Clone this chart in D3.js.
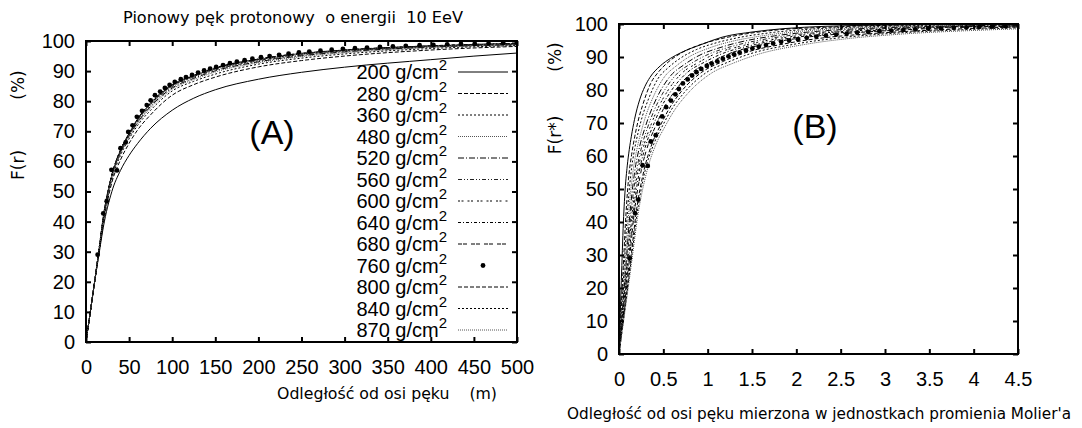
<!DOCTYPE html>
<html>
<head>
<meta charset="utf-8">
<script src="https://cdn.jsdelivr.net/npm/d3@7"></script>
<style>
body { margin: 0; background: #fff; }
</style>
</head>
<body>
<svg id="chart" width="1082" height="428"></svg>
<script>
// depth labels (g/cm2), in legend order
var depths = ['200', '280', '360', '480', '520', '560', '600', '640', '680', '760', '800', '840', '870']

// distance from shower axis (m) where the line curves were read
var radii = [0, 5, 10, 15, 20, 30, 40, 50, 60, 75, 100, 125, 150, 200, 250, 300, 400, 500, 650, 800, 1000, 1300, 1800, 2100]

// F(r) in % for each depth
var f200 = [0, 10, 20, 29, 38, 50, 57, 62, 66, 71, 77, 81, 83.8, 87.3, 89.6, 91.3, 93.8, 96, 97.6, 98.6, 99.3, 99.7, 100, 100]
var f280 = [0, 10, 20, 29.5, 39, 53, 60.5, 66, 70.5, 75.5, 82, 85.5, 88, 91.4, 93.5, 95, 97, 98.2, 99, 99.5, 99.8, 100, 100, 100]
var f360 = [0, 10, 20, 30, 40, 54, 62, 67.5, 72, 77, 83.4, 86.6, 89, 92.3, 94.3, 95.7, 97.5, 98.5, 99.2, 99.6, 99.9, 100, 100, 100]
var f480 = [0, 10, 20, 30, 40.5, 54.5, 62.5, 68, 72.6, 77.8, 84, 87.2, 89.7, 92.8, 94.8, 96.1, 97.8, 98.7, 99.3, 99.7, 99.9, 100, 100, 100]
var f520 = [0, 10, 20, 30, 40.5, 55, 63, 68.5, 73, 78.3, 84.4, 87.6, 90.1, 93.1, 95.1, 96.4, 98, 98.8, 99.4, 99.7, 99.9, 100, 100, 100]
var f560 = [0, 10, 20, 30.5, 41, 55, 63.2, 68.8, 73.4, 78.7, 84.8, 88, 90.4, 93.4, 95.3, 96.6, 98.1, 98.9, 99.4, 99.7, 99.9, 100, 100, 100]
var f600 = [0, 10, 20, 30.5, 41, 55.5, 63.5, 69, 73.7, 79, 85.1, 88.2, 90.7, 93.6, 95.5, 96.8, 98.2, 99, 99.5, 99.8, 100, 100, 100, 100]
var f640 = [0, 10, 20, 30.5, 41, 55.5, 63.7, 69.2, 74, 79.3, 85.3, 88.4, 90.9, 93.8, 95.7, 96.9, 98.3, 99.1, 99.5, 99.8, 100, 100, 100, 100]
var f680 = [0, 10, 20, 30.5, 41.5, 55.5, 63.8, 69.3, 74.2, 79.5, 85.5, 88.6, 91.1, 94, 95.9, 97, 98.4, 99.2, 99.6, 99.8, 100, 100, 100, 100]
var f800 = [0, 10, 20, 30.5, 41.5, 55.5, 63.8, 69.3, 74.1, 79.5, 85.4, 88.6, 91.1, 94, 95.9, 97, 98.4, 99.2, 99.6, 99.8, 100, 100, 100, 100]
var f840 = [0, 10, 20, 30.5, 41, 55.5, 63.6, 69.1, 73.9, 79.2, 85.2, 88.4, 90.9, 93.8, 95.7, 96.9, 98.3, 99.1, 99.5, 99.8, 100, 100, 100, 100]
var f870 = [0, 10, 20, 30.5, 41, 55, 63.4, 68.9, 73.7, 79, 85, 88.2, 90.7, 93.7, 95.6, 96.8, 98.2, 99, 99.5, 99.8, 100, 100, 100, 100]

// 760 g/cm2 is drawn as points
var dotR = [13.5, 20, 24, 29.5, 36, 40, 46, 49, 54, 59, 65, 70.5, 75, 80, 86, 91.5, 97, 103, 110, 116,
    123, 130, 137, 144, 151, 159, 167, 175, 184, 193, 203, 213, 224, 235, 247, 259, 272, 285, 298, 312,
    326, 341, 356, 371, 387, 403, 419, 435, 451, 467, 484, 500]
var dotF = [29, 42.7, 46.8, 57.2, 57, 64.4, 66.3, 69.8, 72, 74.8, 76.8, 78.7, 80.3, 82, 83.2, 84.4, 85.4, 86.4, 87.3, 88,
    88.7, 89.5, 90.2, 90.8, 91.4, 92, 92.6, 93.1, 93.6, 94.1, 94.6, 95, 95.4, 95.8, 96.2, 96.5, 96.8, 97.1, 97.4, 97.6,
    97.8, 98, 98.2, 98.4, 98.6, 98.7, 98.9, 99, 99.1, 99.2, 99.3, 99.4]

// Moliere radius (m) per depth, same order as depths
var moliere = [430, 280, 228, 195, 171, 154, 141, 130, 120, 111, 107, 102, 96.5]

var xTicksA = [0, 50, 100, 150, 200, 250, 300, 350, 400, 450, 500]
var xTicksB = [0, 0.5, 1, 1.5, 2, 2.5, 3, 3.5, 4, 4.5]
var yTicks = [0, 10, 20, 30, 40, 50, 60, 70, 80, 90, 100]

var lineValues = [f200, f280, f360, f480, f520, f560, f600, f640, f680, null, f800, f840, f870]
var dashes = ['none', '4,2', '2,2', '1,1', '6,2,1,2', '4,2,1,2,1,2', '2,1.5,2,4', '3,2,1,2', '4,1,4,4', null, '4,2', '2,2', '1,1']
var colors = ['#000', '#000', '#000', '#555', '#000', '#222', '#000', '#000', '#000', '#000', '#000', '#000', '#555']

var svg = d3.select('#chart')
var tickFont = "'Liberation Sans', Arial, Helvetica, sans-serif"
var textFont = "'DejaVu Sans', sans-serif"

var drawPanel = function(id, xScale, yScale, xTicks, xFormat, scaleOf) {
    var x0 = xScale.range()[0], x1 = xScale.range()[1]
    var y0 = yScale.range()[0], y1 = yScale.range()[1]
    var g = svg.append('g').attr('class', 'panel-' + id)

    g.append('clipPath').attr('id', 'clip-' + id)
        .append('rect')
        .attr('x', x0).attr('y', y1)
        .attr('width', x1 - x0).attr('height', y0 - y1)

    var plot = g.append('g').attr('clip-path', 'url(#clip-' + id + ')')

    for (var i = 0; i < depths.length; i++) {
        if (lineValues[i] == null) continue
        var k = scaleOf(i)
        var pts = radii.map(function(r, j) { return [r / k, lineValues[i][j]] })
        var line = d3.line()
            .x(function(d) { return xScale(d[0]) })
            .y(function(d) { return yScale(d[1]) })
            .curve(d3.curveMonotoneX)
        plot.append('path')
            .attr('d', line(pts))
            .attr('fill', 'none')
            .attr('stroke', colors[i])
            .attr('stroke-width', 1)
            .attr('stroke-dasharray', dashes[i])
    }

    var kd = scaleOf(9)
    plot.selectAll('.dot')
        .data(dotR.map(function(r, j) { return [r / kd, dotF[j]] }))
        .enter().append('circle')
        .attr('class', 'dot')
        .attr('cx', function(d) { return xScale(d[0]) })
        .attr('cy', function(d) { return yScale(d[1]) })
        .attr('r', 2.4)
        .attr('fill', '#000')

    // axes with inward ticks on all four sides
    var axB = g.append('g').attr('transform', 'translate(0,' + y0 + ')')
        .call(d3.axisBottom(xScale).tickValues(xTicks).tickFormat(xFormat).tickSizeInner(-5).tickSizeOuter(0).tickPadding(18))
    var axT = g.append('g').attr('transform', 'translate(0,' + y1 + ')')
        .call(d3.axisTop(xScale).tickValues(xTicks).tickFormat('').tickSizeInner(-5).tickSizeOuter(0))
    var axL = g.append('g').attr('transform', 'translate(' + x0 + ',0)')
        .call(d3.axisLeft(yScale).tickValues(yTicks).tickSizeInner(-5).tickSizeOuter(0).tickPadding(11))
    var axR = g.append('g').attr('transform', 'translate(' + x1 + ',0)')
        .call(d3.axisRight(yScale).tickValues(yTicks).tickFormat('').tickSizeInner(-5).tickSizeOuter(0))

    ;[axB, axT, axL, axR].forEach(function(a) {
        a.attr('font-family', tickFont).attr('font-size', 20)
        a.select('.domain').remove()
        a.selectAll('line').attr('stroke', '#000').attr('stroke-width', 2)
        a.selectAll('text').attr('fill', '#000')
    })

    g.append('rect')
        .attr('x', x0).attr('y', y1)
        .attr('width', x1 - x0).attr('height', y0 - y1)
        .attr('fill', 'none').attr('stroke', '#000').attr('stroke-width', 2)
    return g
}

var xA = d3.scaleLinear().domain([0, 500]).range([86, 517])
var yA = d3.scaleLinear().domain([0, 100]).range([342, 41])
var xB = d3.scaleLinear().domain([0, 4.5]).range([619, 1018])
var yB = d3.scaleLinear().domain([0, 100]).range([354, 24])

var gA = drawPanel('A', xA, yA, xTicksA, d3.format('d'), function(i) { return 1 })
var gB = drawPanel('B', xB, yB, xTicksB, function(d) { return String(d) }, function(i) { return moliere[i] })

// legend (panel A)
var legend = gA.append('g')
depths.forEach(function(d, i) {
    var cy = 72 + i * 21.5
    var t = legend.append('text')
        .attr('x', 447).attr('y', cy + 7)
        .attr('text-anchor', 'end')
        .style('font-family', tickFont).style('font-size', '20px')
    t.append('tspan').text(d + ' g/cm')
    t.append('tspan').attr('dy', -9).style('font-size', '15px').text('2')
    if (lineValues[i] == null) {
        legend.append('circle').attr('cx', 483).attr('cy', cy).attr('r', 2.4).attr('fill', '#000')
    } else {
        legend.append('line')
            .attr('x1', 458).attr('x2', 508).attr('y1', cy).attr('y2', cy)
            .attr('stroke', colors[i]).attr('stroke-width', 1)
            .attr('stroke-dasharray', dashes[i])
    }
})

// texts
svg.append('text').attr('x', 293).attr('y', 23).attr('text-anchor', 'middle')
    .style('font-family', textFont).style('font-size', '15px')
    .attr('textLength', 340).attr('lengthAdjust', 'spacingAndGlyphs')
    .style('white-space', 'pre')
    .text('Pionowy pęk protonowy  o energii  10 EeV')

svg.append('text').attr('x', 387).attr('y', 399).attr('text-anchor', 'middle')
    .style('font-family', textFont).style('font-size', '16px')
    .attr('textLength', 220).attr('lengthAdjust', 'spacingAndGlyphs')
    .style('white-space', 'pre')
    .text('Odległość od osi pęku    (m)')

svg.append('text').attr('x', 819).attr('y', 419).attr('text-anchor', 'middle')
    .style('font-family', textFont).style('font-size', '15px')
    .attr('textLength', 504).attr('lengthAdjust', 'spacingAndGlyphs')
    .text("Odległość od osi pęku mierzona w jednostkach promienia Molier'a")

// rotated y titles, each part placed on its own like the original
var yTitle = function(x, y, s) {
    svg.append('text').attr('transform', 'translate(' + x + ',' + y + ') rotate(-90)')
        .attr('text-anchor', 'middle')
        .style('font-family', textFont).style('font-size', '17px')
        .text(s)
}
yTitle(24, 165, 'F(r)')
yTitle(24, 85, '(%)')
yTitle(561, 135, 'F(r*)')
yTitle(561, 57, '(%)')

svg.append('text').attr('x', 272).attr('y', 144).attr('text-anchor', 'middle')
    .style('font-family', tickFont).style('font-size', '34px').text('(A)')
svg.append('text').attr('x', 815).attr('y', 138).attr('text-anchor', 'middle')
    .style('font-family', tickFont).style('font-size', '34px').text('(B)')
</script>
</body>
</html>
